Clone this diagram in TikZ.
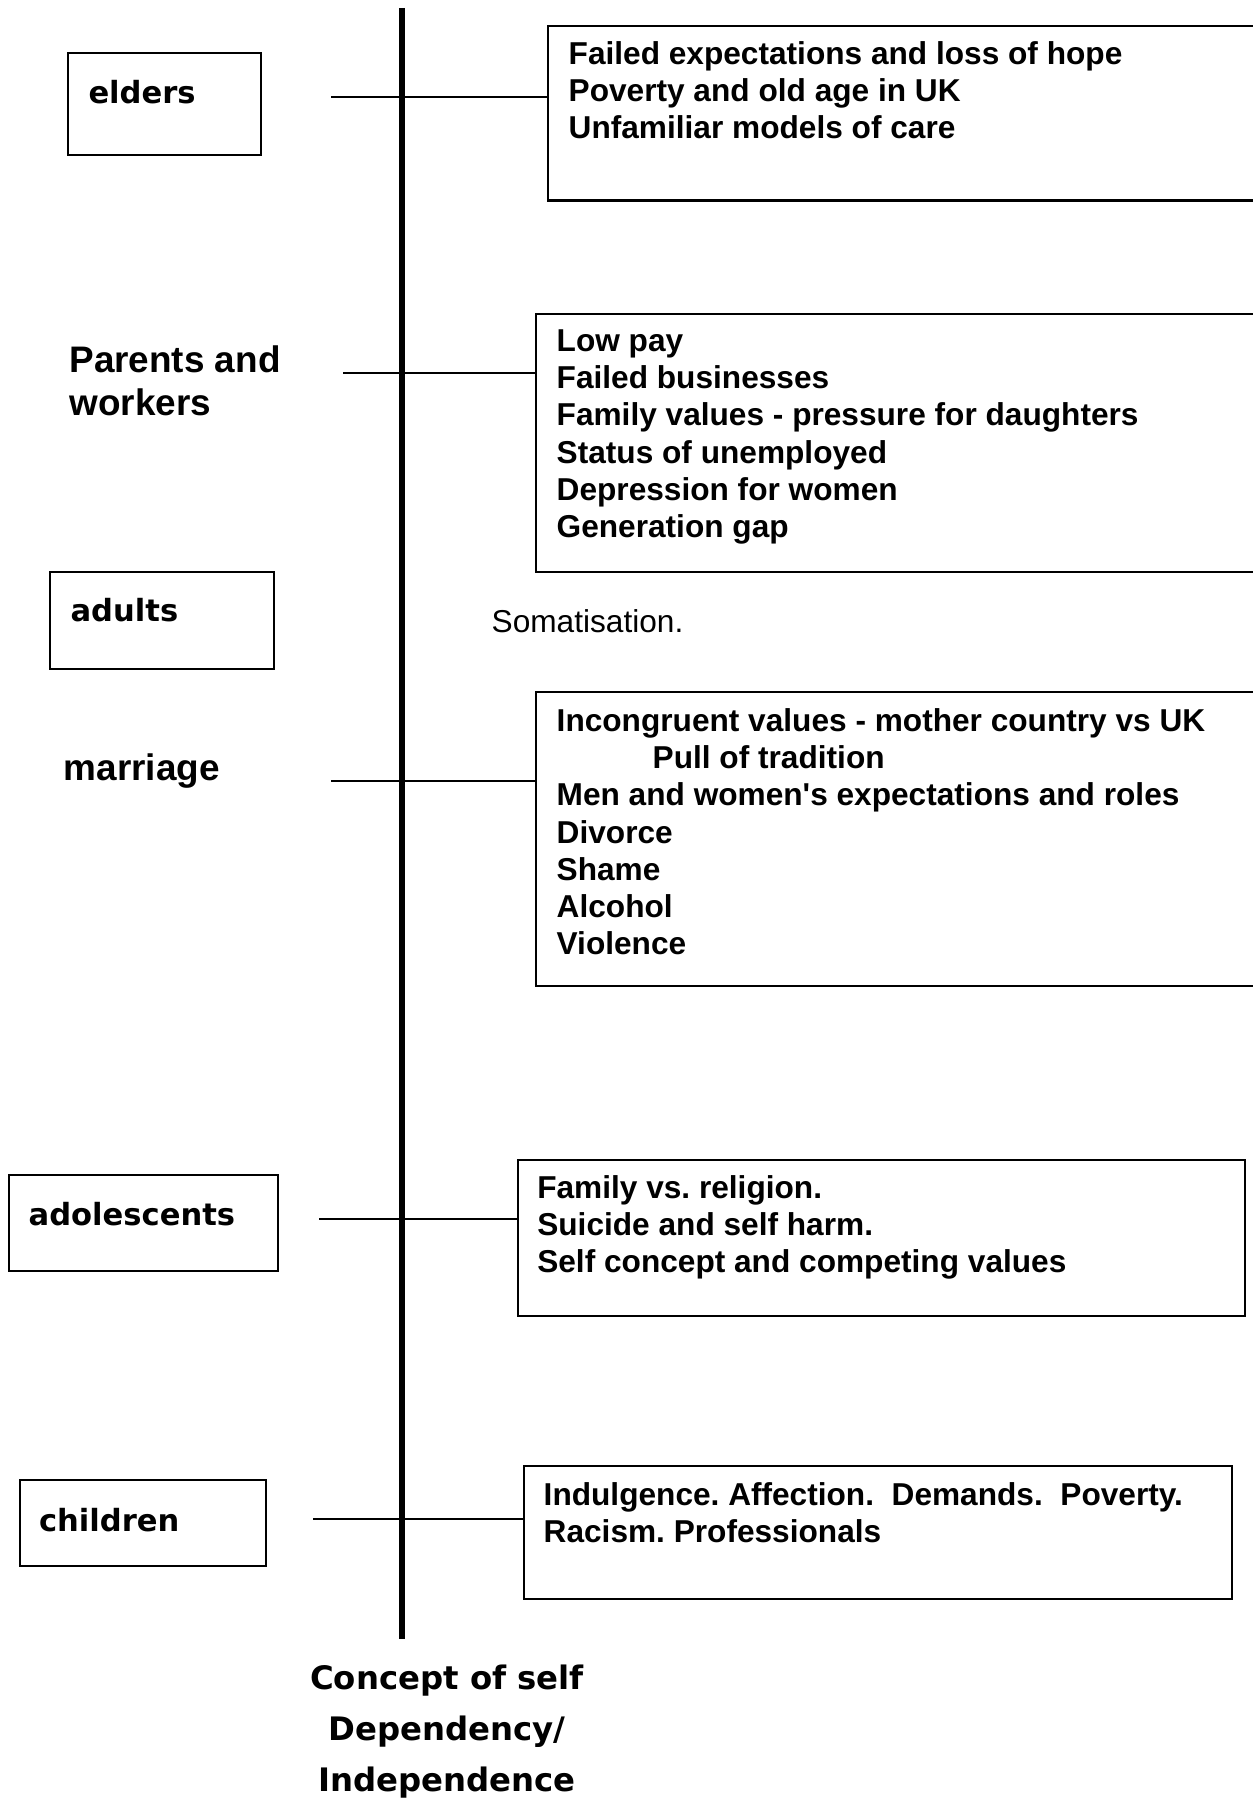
\documentclass[tikz,border=0pt]{standalone}
\usepackage{fontspec}
\setmainfont{Liberation Sans}
\newfontfamily\comicfont{DejaVu Sans}
\frenchspacing

\tikzset{
  agebox/.style={draw, line width=0.6pt, inner sep=0pt, anchor=north west},
  agelabel/.style={font=\comicfont\bfseries\fontsize{8.7}{10}\selectfont, anchor=base west, inner sep=0pt},
  grouplabel/.style={font=\bfseries\fontsize{10.5}{12.3}\selectfont, align=left, anchor=north west, inner sep=0pt},
  listbox/.style={draw, line width=0.6pt, inner sep=0pt, anchor=north west},
  listtext/.style={font=\bfseries\fontsize{9}{10.6}\selectfont, align=left, anchor=north west, inner sep=0pt},
  link/.style={line width=0.6pt},
  axisline/.style={line width=1.7pt}
}

\begin{document}
\begin{tikzpicture}
        \useasboundingbox (0,0) rectangle (12.52,-17.99);

        % Eje central
        \coordinate (axtop) at (4.02,-0.08);
        \coordinate (axbot) at (4.02,-16.39);
        \draw[axisline] (axtop) -- (axbot);

        % Etapas (izquierda)
        \node[agebox, minimum width=1.928cm, minimum height=1.026cm] (eldersbox) at (0.667,-0.517) {};
        \node[agelabel] (elders) at (0.878,-1.04) {elders};
        \node[grouplabel] (parents) at (0.687,-3.452) {Parents and\\workers};
        \node[agebox, minimum width=2.236cm, minimum height=0.973cm] (adultsbox) at (0.491,-5.71) {};
        \node[agelabel] (adults) at (0.699,-6.217) {adults};
        \node[grouplabel] (marriage) at (0.63,-7.535) {marriage};
        \node[agebox, minimum width=2.69cm, minimum height=0.96cm] (adobox) at (0.08,-11.74) {};
        \node[agelabel] (adolescents) at (0.28,-12.25) {adolescents};
        \node[agebox, minimum width=2.46cm, minimum height=0.86cm] (childbox) at (0.19,-14.79) {};
        \node[agelabel] (children) at (0.383,-15.31) {children};

        % Cajas de problemas (derecha)
        \node[listbox, minimum width=7.2cm, minimum height=1.745cm] (elderslist) at (5.466,-0.25) {};
        \node[listtext] (elderstext) at (5.68,-0.408) {Failed expectations and loss of hope\\Poverty and old age in UK\\Unfamiliar models of care};

        \node[listbox, minimum width=7.3cm, minimum height=2.583cm] (parentslist) at (5.345,-3.127) {};
        \node[listtext] (parentstext) at (5.56,-3.288) {Low pay\\Failed businesses\\Family values - pressure for daughters\\Status of unemployed\\Depression for women\\Generation gap};

        \node[font=\fontsize{9}{10.6}\selectfont, anchor=base west, inner sep=0pt] (somat) at (4.91,-6.33) {Somatisation.};

        \node[listbox, minimum width=7.3cm, minimum height=2.94cm] (marriagelist) at (5.345,-6.91) {};
        \node[listtext] (marriagetext) at (5.56,-7.078) {Incongruent values - mother country vs UK\\\hspace*{0.96cm}Pull of tradition\\Men and women\textquotesingle s expectations and roles\\Divorce\\Shame\\Alcohol\\Violence};

        \node[listbox, minimum width=7.274cm, minimum height=1.557cm] (adolist) at (5.166,-11.593) {};
        \node[listtext] (adotext) at (5.366,-11.748) {Family vs. religion.\\Suicide and self harm.\\Self concept and competing values};

        \node[listbox, minimum width=7.08cm, minimum height=1.327cm] (childlist) at (5.23,-14.65) {};
        \node[listtext] (childtext) at (5.43,-14.818) {Indulgence. Affection.\ \ Demands.\ \ Poverty.\\Racism. Professionals};

        % Conectores
        \coordinate (eldersend) at (3.31,-0.97);
        \coordinate (parentsend) at (3.43,-3.727);
        \coordinate (marriageend) at (3.31,-7.807);
        \coordinate (adoend) at (3.19,-12.193);
        \coordinate (childend) at (3.13,-15.193);
        \draw[link] (eldersend) -- (eldersend -| elderslist.west);
        \draw[link] (parentsend) -- (parentsend -| parentslist.west);
        \draw[link] (marriageend) -- (marriageend -| marriagelist.west);
        \draw[link] (adoend) -- (adoend -| adolist.west);
        \draw[link] (childend) -- (childend -| childlist.west);

        % Leyenda del eje
        \node[font=\comicfont\bfseries\fontsize{9.2}{14.5}\selectfont, align=center, anchor=north, inner sep=0pt] (concept) at (4.47,-16.644) {Concept of self\\Dependency/\\Independence};
    \end{tikzpicture}
\end{document}
